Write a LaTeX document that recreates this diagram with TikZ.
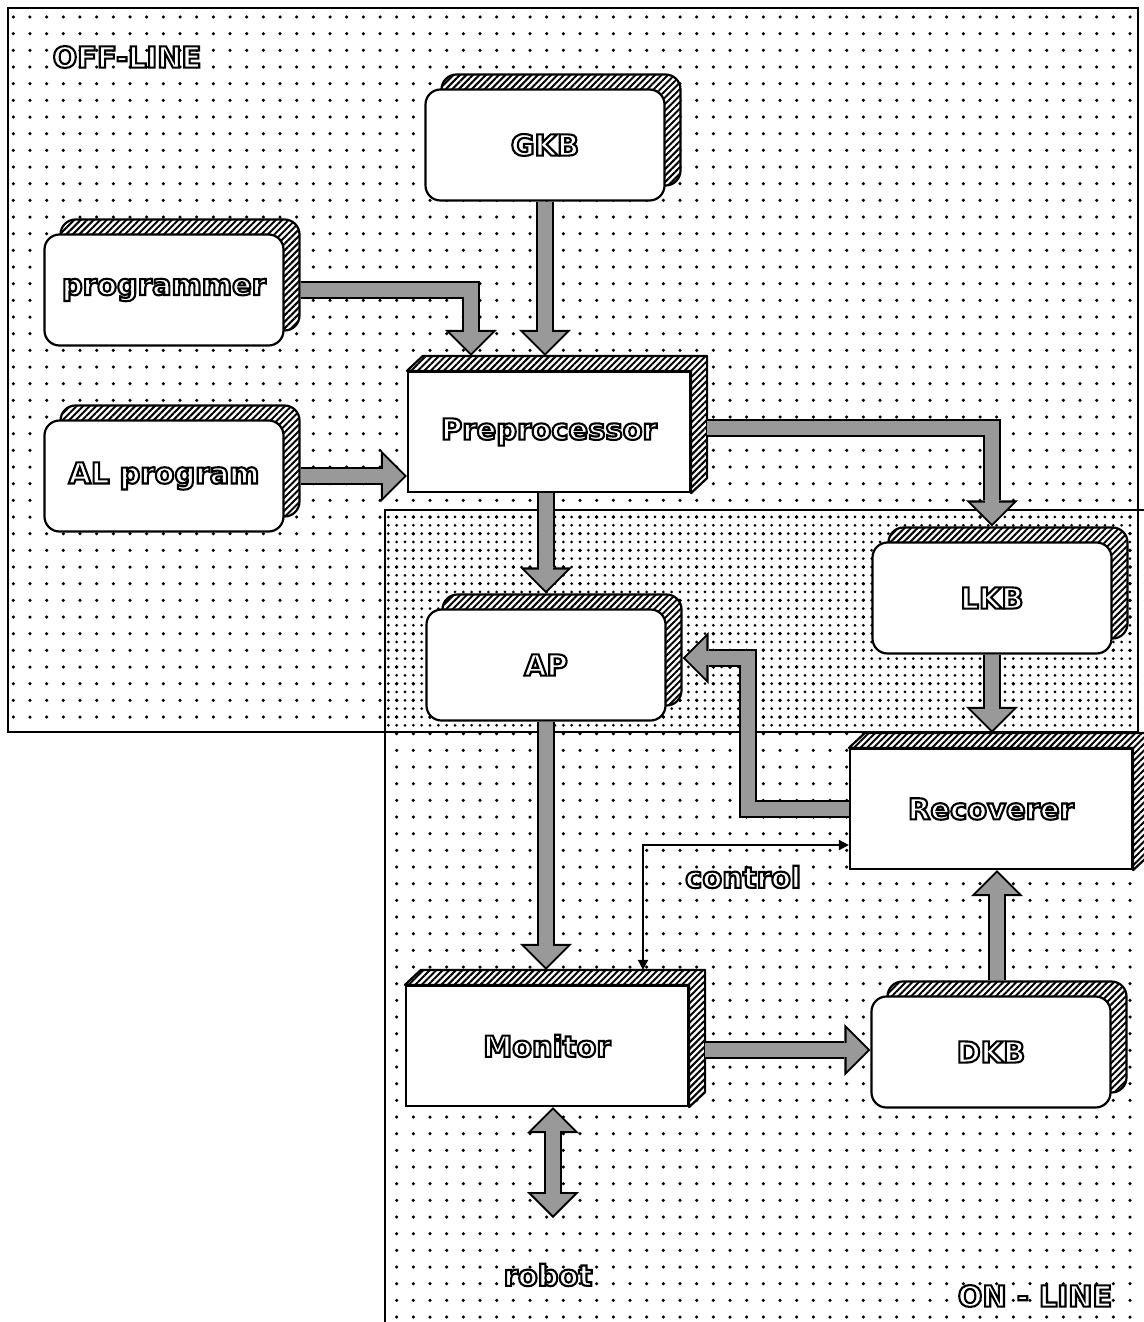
\documentclass[tikz,border=0pt]{standalone}
\usepackage{fontspec}
\usetikzlibrary{arrows.meta,patterns.meta,calc}
\newfontfamily\lblfont{DejaVu Sans}
\definecolor{arrowgray}{gray}{0.6}

% outlined lettering: white interior (text colour), black stroked contour
\newcommand\hollow[1]{\special{pdf:literal direct 2 Tr 2.1 w 0 G}#1\special{pdf:literal direct 0 Tr}}
% broad shaded arrows: black contour pass, then grey body pass
\newcommand\fatarrow[1]{\draw[fatout] #1; \draw[fatin] #1;}
\newcommand\fatdouble[1]{\draw[fatout,fatboth] #1; \draw[fatin,fatbothin] #1;}
% slanted hatched top and side of a square-cornered block
\newcommand\extrude[1]{\draw[hatch,line width=2.2pt,line join=round]
  (#1.north west) -- ++(16,-15) -- ($(#1.north east)+(16,-15)$)
  -- ($(#1.south east)+(16,-15)$) -- (#1.south east) -- (#1.north east) -- cycle;}

\tikzset{
  lbl/.style={font=\lblfont\bfseries\fontsize{29}{34}\selectfont, inner sep=0pt, text=white},
  rbox/.style={draw, line width=2.2pt, rounded corners=15pt, minimum width=239pt,
    minimum height=111pt, fill=white, inner sep=0pt, lbl},
  sbox/.style={draw, line width=2.2pt, minimum width=282pt, minimum height=120pt,
    fill=white, inner sep=0pt, lbl},
  hatch/.style={preaction={fill=white},
    pattern={Lines[angle=45,distance=4.6pt,line width=2pt]}},
  dotrow/.style={line width=3.5pt, line cap=round, dash pattern=on 0pt off 16.667pt},
  densedots/.style={line width=3pt, line cap=round, dash pattern=on 0pt off 8.333pt},
  frame/.style={line width=2.4pt},
  fatout/.style={line width=18pt, draw=black, line join=miter,
    arrows={-Triangle[length=26pt,width=52pt,line width=0pt]}},
  fatin/.style={line width=14pt, draw=arrowgray, line join=miter,
    arrows={-Triangle[length=21pt,width=42pt,line width=0pt]}, shorten >=2.8pt},
  fatboth/.style={arrows={Triangle[length=26pt,width=52pt,line width=0pt]-Triangle[length=26pt,width=52pt,line width=0pt]}},
  fatbothin/.style={arrows={Triangle[length=21pt,width=42pt,line width=0pt]-Triangle[length=21pt,width=42pt,line width=0pt]}, shorten <=2.8pt},
  ctrl/.style={line width=1.8pt,
    arrows={Triangle[length=10pt,width=10pt]-Triangle[length=10pt,width=10pt]}},
}

\begin{document}
\begin{tikzpicture}[x=1pt,y=-1pt]
\useasboundingbox (0,0) rectangle (1143,1322);
\fill[white] (0,0) rectangle (1143,1322);

% dotted grounds of the two zones
\begin{scope}
  \clip (8,8) rectangle (1138,732);
  \foreach \r in {0,...,43}
    \draw[dotrow] (13.33,{17+16.667*\r}) -- (1140,{17+16.667*\r});
\end{scope}
\begin{scope}
  \clip (385,510) rectangle (1150,1330);
  \foreach \r in {29,...,79}
    \draw[dotrow] (396.67,{17+16.667*\r}) -- (1150,{17+16.667*\r});
\end{scope}
\begin{scope}
  \clip (385,510) rectangle (1138,732);
  \foreach \r in {59,...,86}
    \draw[densedots] (388.33,{17+8.333*\r}) -- (1140,{17+8.333*\r});
\end{scope}

\draw[frame] (8,8) rectangle (1138,732);
\draw[frame] (385,510) rectangle (1152,1332);

\node[lbl] (offl) at (127,57) {\hollow{OFF-LINE}};
\node[lbl] (onl) at (1035,1296) {\hollow{ON - LINE}};

% rounded blocks with hatched drop shadow
\node[rbox,hatch] (gkb-s) at (561,130) {};
\node[rbox] (gkb) at (545,145) {\hollow{GKB}};
\node[rbox,hatch] (prog-s) at (180,275) {};
\node[rbox] (prog) at (164,290) {\hollow{programmer}};
\node[rbox,hatch] (alp-s) at (180,461) {};
\node[rbox] (alp) at (164,476) {\hollow{AL program}};
\node[rbox,hatch] (ap-s) at (562,650) {};
\node[rbox] (ap) at (546,665) {\hollow{AP}};
\node[rbox,hatch] (lkb-s) at (1008,583) {};
\node[rbox] (lkb) at (992,598) {\hollow{LKB}};
\node[rbox,hatch] (dkb-s) at (1007,1037) {};
\node[rbox] (dkb) at (991,1052) {\hollow{DKB}};

% square-cornered blocks
\node[sbox] (pre) at (549,432) {\hollow{Preprocessor}};
\extrude{pre}
\node[sbox] (rec) at (991,809) {\hollow{Recoverer}};
\extrude{rec}
\node[sbox] (mon) at (547,1046) {\hollow{Monitor}};
\extrude{mon}

\coordinate (pre-top) at ($(pre.north)+(0,-15)$);
\coordinate (rec-top) at ($(rec.north)+(0,-15)$);
\coordinate (mon-top) at ($(mon.north)+(0,-15)$);
\coordinate (pre-side) at ($(pre.east)+(16,-4)$);
\coordinate (mon-side) at ($(mon.east)+(16,4)$);
\coordinate (apin) at (748,658);
\coordinate (dkbout) at ($(dkb-s.north)+(-10,0)$);
\coordinate (robtip) at (553,1218);
\coordinate (cbend) at (643,845);

% data flow
\fatarrow{(prog-s.east |- prog.center) -| ($(pre.north west)+(64,-15)$)}
\fatarrow{(gkb.south) -- (gkb.south |- pre-top)}
\fatarrow{(alp-s.east |- alp.center) -- (pre.west |- alp.center)}
\fatarrow{(ap.center |- pre.south) -- (ap.center |- ap-s.north)}
\fatarrow{(pre-side) -| (lkb.center |- lkb-s.north)}
\fatarrow{(lkb.south) -- (lkb.south |- rec-top)}
\fatarrow{(rec.west) -| (apin) -- (apin -| ap-s.east)}
\fatarrow{(ap.south) -- (ap.south |- mon-top)}
\fatarrow{(mon-side) -- (mon-side -| dkb.west)}
\fatarrow{(dkbout) -- (dkbout |- rec.south)}

\node[lbl] (robot) at (548,1275) {\hollow{robot}};
\fatdouble{(robtip |- mon.south) -- (robtip)}

\node[lbl] (ctl) at (743,877) {\hollow{control}};
\draw[ctrl] (cbend -| rec.west) -- (cbend) -- (cbend |- mon-top);
\end{tikzpicture}
\end{document}
